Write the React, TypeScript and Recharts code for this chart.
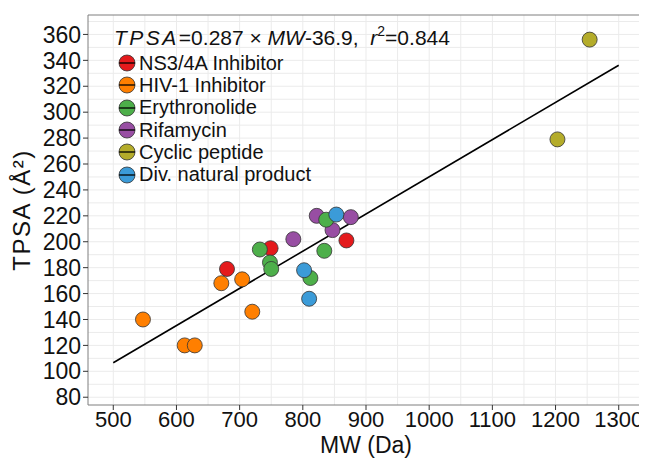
import React from 'react'
import { ScatterChart, Scatter, XAxis, YAxis, CartesianGrid, ReferenceArea, ReferenceLine, Label } from 'recharts'

// compound classes (legend order)
const groupNames = ['NS3/4A Inhibitor', 'HIV-1 Inhibitor', 'Erythronolide', 'Rifamycin', 'Cyclic peptide', 'Div. natural product']
const groupColors = ['#E41A1C', '#FF7F00', '#4DAF4A', '#984EA3', '#B4AC2A', '#3B9BD8']

// MW (Da) / TPSA (Å²) per class
const ns3MW = [680, 749, 869]
const ns3TPSA = [179, 195, 201]
const hivMW = [547, 613, 629, 671, 704, 720]
const hivTPSA = [140, 120, 120, 168, 171, 146]
const eryMW = [732, 837, 834, 748, 750, 812]
const eryTPSA = [194, 217, 193, 184, 179, 172]
const rifMW = [785, 822, 847, 876]
const rifTPSA = [202, 220, 209, 219]
const cycMW = [1203, 1254]
const cycTPSA = [279, 356]
const divMW = [802, 810, 853]
const divTPSA = [178, 156, 221]

// fitted line end points
const fitMW = [500, 1300]
const fitTPSA = [106.6, 336.2]

const xTicks = [500, 600, 700, 800, 900, 1000, 1100, 1200, 1300]
const yTicks = [80, 100, 120, 140, 160, 180, 200, 220, 240, 260, 280, 300, 320, 340, 360]
const xGrid = [500, 550, 600, 650, 700, 750, 800, 850, 900, 950, 1000, 1050, 1100, 1150, 1200, 1250, 1300]
const yGrid = [80, 90, 100, 110, 120, 130, 140, 150, 160, 170, 180, 190, 200, 210, 220, 230, 240, 250, 260, 270, 280, 290, 300, 310, 320, 330, 340, 350, 360, 370]

const xDomain = [460, 1340]
const yDomain = [74, 375]

const font = '"Liberation Sans", Arial, sans-serif'

const toPoints = (mw: number[], tpsa: number[]) => mw.map((x, i) => ({ mw: x, tpsa: tpsa[i] }))

const series = [
  { key: 0, data: toPoints(ns3MW, ns3TPSA) },
  { key: 1, data: toPoints(hivMW, hivTPSA) },
  { key: 3, data: toPoints(rifMW, rifTPSA) },
  { key: 2, data: toPoints(eryMW, eryTPSA) },
  { key: 4, data: toPoints(cycMW, cycTPSA) },
  { key: 5, data: toPoints(divMW, divTPSA) },
]

const dot = (color: string) => (props: any) => (
  <circle cx={props.cx} cy={props.cy} r={7.5} fill={color} stroke="#333" strokeWidth={0.8} />
)

export default function App() {
  return (
    <div style={{ position: 'relative', width: 639, height: 450, fontFamily: font }}>
      <ScatterChart width={639} height={450} margin={{ top: 7, right: 3, left: 0, bottom: 0 }}>
        <CartesianGrid stroke="#ebebeb" horizontalValues={yGrid} verticalValues={xGrid} />
        <XAxis
          type="number"
          dataKey="mw"
          domain={xDomain}
          ticks={xTicks}
          interval={0}
          allowDataOverflow
          height={53}
          axisLine={false}
          tickSize={5}
          tickMargin={1}
          tickLine={{ stroke: '#333' }}
          tick={{ fill: '#111', fontSize: 22, fontFamily: font }}
        >
          <Label value="MW (Da)" position="insideBottom" offset={5} style={{ fill: '#111', fontSize: 23, fontFamily: font }} />
        </XAxis>
        <YAxis
          type="number"
          dataKey="tpsa"
          domain={yDomain}
          ticks={yTicks}
          interval={0}
          allowDataOverflow
          width={80}
          axisLine={false}
          tickSize={5}
          tickMargin={2}
          tickLine={{ stroke: '#333' }}
          tick={{ fill: '#111', fontSize: 23, fontFamily: font }}
        >
          <Label
            value="TPSA (Å²)"
            angle={-90}
            position="insideLeft"
            offset={13}
            style={{ textAnchor: 'middle', fill: '#111', fontSize: 24, letterSpacing: 1.5, fontFamily: font }}
          />
        </YAxis>
        <ReferenceArea x1={xDomain[0]} x2={xDomain[1]} y1={yDomain[0]} y2={yDomain[1]} fill="none" stroke="#7f7f7f" strokeWidth={1} />
        <ReferenceLine
          segment={[{ x: fitMW[0], y: fitTPSA[0] }, { x: fitMW[1], y: fitTPSA[1] }]}
          stroke="#000"
          strokeWidth={1.6}
        />
        {series.map((s) => (
          <Scatter
            key={s.key}
            name={groupNames[s.key]}
            data={s.data}
            fill={groupColors[s.key]}
            shape={dot(groupColors[s.key])}
            isAnimationActive={false}
          />
        ))}
      </ScatterChart>

      <div style={{ position: 'absolute', left: 106, top: 19, fontSize: 21, lineHeight: '22px', color: '#111', whiteSpace: 'nowrap' }}>
        <i style={{ letterSpacing: 2.5 }}>TPSA</i>=0.287 × <i>MW</i>-36.9,&nbsp; <i>r</i>
        <span style={{ fontSize: 14, position: 'relative', top: -9 }}>2</span>=0.844
      </div>

      <div style={{ position: 'absolute', left: 110, top: 44 }}>
        {groupNames.map((name, i) => (
          <div key={name} style={{ display: 'flex', alignItems: 'center', height: 22.3, fontSize: 20, color: '#111', whiteSpace: 'nowrap' }}>
            <svg width={18} height={18} style={{ marginRight: 3 }}>
              <circle cx={9} cy={9} r={8} fill={groupColors[i]} stroke="#333" strokeWidth={0.8} />
              <line x1={1} y1={9} x2={17} y2={9} stroke="#000" strokeWidth={1.3} />
            </svg>
            {name}
          </div>
        ))}
      </div>
    </div>
  )
}
